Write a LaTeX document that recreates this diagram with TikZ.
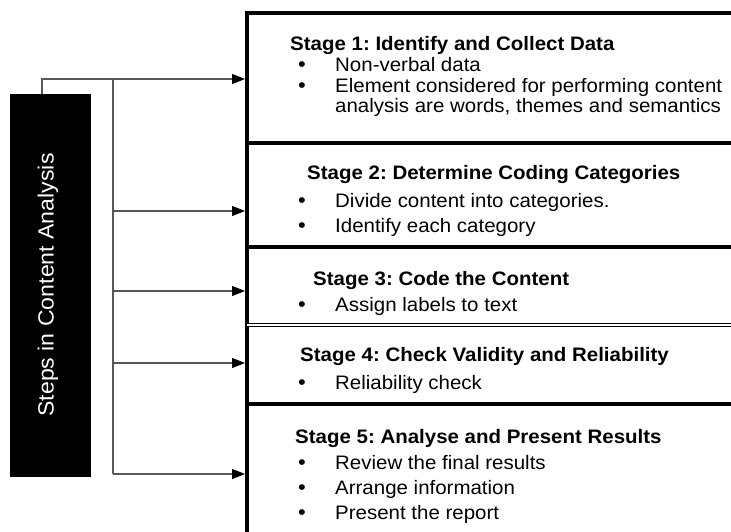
\documentclass[tikz,border=0pt]{standalone}
\usepackage{fontspec}
\setmainfont[FakeStretch=1.05]{Liberation Sans}
\newfontfamily\sidefont[FakeStretch=1.05]{Liberation Sans}
\usetikzlibrary{arrows.meta}
\frenchspacing
\begin{document}
\begin{tikzpicture}[x=1pt,y=-1pt,
  frame/.style={line width=4pt},
  link/.style={draw=black!65, line width=1.1pt},
  tip/.style={-{Triangle[length=13pt,width=10pt,color=black]}, shorten >=2pt},
  stagebox/.style={anchor=north west, minimum width=484pt, inner sep=0pt, outer sep=0pt},
  title/.style={anchor=base west, inner sep=0pt, font=\fontsize{19.5}{22}\selectfont\bfseries},
  item/.style={anchor=base west, inner sep=0pt, font=\fontsize{19.5}{22}\selectfont},
  dot/.style={anchor=base, inner sep=0pt, font=\fontsize{21}{22}\selectfont}]

\useasboundingbox (0,0) rectangle (731,532);

% vertical title bar
\node[fill=black, minimum width=81pt, minimum height=383pt, inner sep=0pt, anchor=north west] (side) at (10,94) {};
\node[rotate=90, text=white, inner sep=0pt, font=\sidefont\fontsize{22}{24}\selectfont] (sidetext) at (48,285) {Steps in Content Analysis};

% stage regions
\node[stagebox, minimum height=130pt] (s1) at (247,13) {};
\node[stagebox, minimum height=104pt] (s2) at (247,143) {};
\node[stagebox, minimum height=78pt]  (s3) at (247,247) {};
\node[stagebox, minimum height=79pt]  (s4) at (247,325) {};
\node[stagebox, minimum height=128pt] (s5) at (247,404) {};

% frame
\draw[frame] (s1.north east) -- (s1.north west) -- (s5.south west);
\draw[frame] (s1.south west) -- (s1.south east);
\draw[frame] (s2.south west) -- (s2.south east);
\draw[line width=1.3pt, double, double distance=2pt] (s3.south west) -- (s3.south east);
\draw[frame] (s4.south west) -- (s4.south east);

% connectors
\coordinate (j1) at (113,79);
\coordinate (j2) at (113,211);
\coordinate (j3) at (113,291);
\coordinate (j4) at (113,363);
\coordinate (j5) at (113,474);
\draw[link, tip] ([xshift=32pt]side.north west) |- (j1 -| s1.west);
\draw[link] (j1) -- (j5);
\draw[link, tip] (j2) -- (j2 -| s2.west);
\draw[link, tip] (j3) -- (j3 -| s3.west);
\draw[link, tip] (j4) -- (j4 -| s4.west);
\draw[link, tip] (j5) -- (j5 -| s5.west);

% stage 1
\node[title] (t1) at (290,51) {Stage 1: Identify and Collect Data};
\node[dot] (d1a) at (302,72) {\textbullet};
\node[item] (i1a) at (335,72) {Non-verbal data};
\node[dot] (d1b) at (302,93) {\textbullet};
\node[item] (i1b) at (335,93) {Element considered for performing content};
\node[item] (i1c) at (335,113) {analysis are words, themes and semantics};

% stage 2
\node[title] (t2) at (307,179) {Stage 2: Determine Coding Categories};
\node[dot] (d2a) at (302,207) {\textbullet};
\node[item] (i2a) at (335,207) {Divide content into categories.};
\node[dot] (d2b) at (302,232) {\textbullet};
\node[item] (i2b) at (335,232) {Identify each category};

% stage 3
\node[title] (t3) at (313,285) {Stage 3: Code the Content};
\node[dot] (d3a) at (302,311) {\textbullet};
\node[item] (i3a) at (335,311) {Assign labels to text};

% stage 4
\node[title] (t4) at (300,361) {Stage 4: Check Validity and Reliability};
\node[dot] (d4a) at (302,389) {\textbullet};
\node[item] (i4a) at (335,389) {Reliability check};

% stage 5
\node[title] (t5) at (295,443) {Stage 5: Analyse and Present Results};
\node[dot] (d5a) at (302,469) {\textbullet};
\node[item] (i5a) at (335,469) {Review the final results};
\node[dot] (d5b) at (302,494) {\textbullet};
\node[item] (i5b) at (335,494) {Arrange information};
\node[dot] (d5c) at (302,519) {\textbullet};
\node[item] (i5c) at (335,519) {Present the report};
\end{tikzpicture}
\end{document}
